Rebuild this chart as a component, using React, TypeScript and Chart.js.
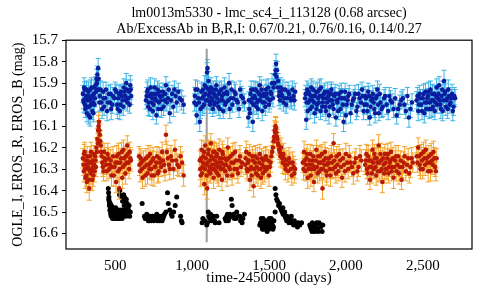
import React, { useEffect, useRef } from "react";
import { Chart, registerables } from "chart.js";

Chart.register(...registerables);

const titleLines = [
  "lm0013m5330 - lmc_sc4_i_113128 (0.68 arcsec)",
  "Ab/ExcessAb in B,R,I: 0.67/0.21, 0.76/0.16, 0.14/0.27",
];
const xTitle = "time-2450000 (days)";
const yTitle = "OGLE_I, EROS_R, EROS_B (mag)";
const xTicks = [500, 1000, 1500, 2000, 2500];
const yTicks = [15.7, 15.8, 15.9, 16.0, 16.1, 16.2, 16.3, 16.4, 16.5, 16.6];
const markerDay = 1095;
const markerMags = [15.74, 16.64];

// [day, mag, error]
const erosB: [number, number, number][] = [
  [290, 15.95, 0.04], [296, 15.99, 0.045], [301, 15.93, 0.035], [306, 16.02, 0.04], [311, 15.96, 0.05],
  [316, 16.04, 0.04], [320, 15.98, 0.035], [326, 15.94, 0.045], [331, 16.01, 0.04], [336, 16.06, 0.04],
  [341, 15.97, 0.035], [346, 15.92, 0.045], [351, 16.03, 0.04], [356, 15.99, 0.05], [361, 15.95, 0.04],
  [366, 16.0, 0.035], [372, 15.91, 0.04], [378, 15.88, 0.045], [384, 15.86, 0.04], [389, 15.83, 0.045],
  [394, 15.93, 0.04], [400, 15.96, 0.035], [410, 15.99, 0.04], [421, 15.94, 0.045], [428, 16.01, 0.04],
  [436, 15.97, 0.035], [447, 16.03, 0.045], [458, 15.95, 0.04], [466, 15.99, 0.04], [474, 16.02, 0.05],
  [485, 15.96, 0.04], [500, 15.93, 0.035], [512, 16.0, 0.045], [520, 15.97, 0.04], [530, 16.03, 0.04],
  [538, 15.94, 0.035], [548, 15.98, 0.045], [556, 15.92, 0.04], [565, 15.96, 0.04], [572, 15.9, 0.045],
  [580, 15.99, 0.04], [590, 15.94, 0.035], [598, 15.91, 0.045], [604, 15.96, 0.04],
  [293, 15.98, 0.04], [298, 15.92, 0.045], [303, 16.0, 0.04], [308, 15.97, 0.035], [313, 15.93, 0.04],
  [318, 16.01, 0.045], [323, 15.96, 0.04], [328, 16.05, 0.04], [333, 15.98, 0.035], [338, 15.93, 0.045],
  [343, 16.0, 0.04], [348, 15.96, 0.04], [353, 15.99, 0.045], [358, 16.04, 0.04], [363, 15.92, 0.035],
  [368, 15.97, 0.04], [375, 15.94, 0.045], [381, 15.9, 0.04], [386, 15.93, 0.04], [392, 15.88, 0.045],
  [397, 15.99, 0.04], [405, 15.93, 0.04], [415, 16.02, 0.045], [425, 15.97, 0.04], [440, 15.93, 0.035],
  [452, 15.99, 0.04], [470, 15.95, 0.045], [480, 16.0, 0.04], [495, 15.97, 0.04], [506, 15.94, 0.035],
  [516, 16.02, 0.045], [525, 15.95, 0.04], [534, 16.0, 0.04], [543, 15.96, 0.045], [552, 16.01, 0.04],
  [560, 15.94, 0.035], [568, 15.98, 0.04], [576, 15.93, 0.045], [585, 15.97, 0.04], [594, 16.0, 0.04],
  [601, 15.93, 0.045],
  [700, 15.98, 0.04], [708, 15.94, 0.045], [715, 16.01, 0.04], [722, 15.96, 0.035], [730, 15.92, 0.045],
  [738, 15.99, 0.04], [745, 16.03, 0.04], [752, 15.95, 0.035], [760, 15.97, 0.045], [768, 16.05, 0.04],
  [775, 15.93, 0.04], [783, 15.99, 0.035], [790, 15.96, 0.045], [800, 16.02, 0.04], [810, 15.94, 0.04],
  [820, 15.98, 0.045], [830, 15.91, 0.04], [842, 15.97, 0.035], [855, 16.04, 0.045], [870, 15.95, 0.04],
  [885, 15.93, 0.04], [900, 15.99, 0.045], [920, 15.97, 0.04], [945, 16.0, 0.04],
  [704, 15.96, 0.04], [712, 15.93, 0.045], [719, 15.99, 0.04], [726, 16.02, 0.035], [734, 15.95, 0.04],
  [741, 15.97, 0.045], [749, 16.0, 0.04], [756, 15.92, 0.04], [764, 15.98, 0.045], [772, 15.95, 0.04],
  [780, 16.02, 0.035], [787, 15.94, 0.04], [795, 15.98, 0.045], [805, 15.96, 0.04], [815, 16.01, 0.04],
  [825, 15.95, 0.045], [836, 15.99, 0.04], [848, 15.93, 0.035], [862, 15.98, 0.04], [878, 16.01, 0.045],
  [893, 15.96, 0.04], [910, 15.94, 0.04], [932, 15.98, 0.045],
  [1015, 15.99, 0.04], [1022, 15.93, 0.045], [1030, 16.05, 0.04], [1040, 15.97, 0.035], [1050, 16.08, 0.045],
  [1060, 15.94, 0.04], [1068, 16.01, 0.04], [1075, 15.96, 0.035], [1082, 15.91, 0.045], [1090, 15.98, 0.04],
  [1097, 15.85, 0.045], [1100, 15.83, 0.04], [1105, 15.93, 0.04], [1110, 15.96, 0.035], [1116, 16.0, 0.04],
  [1122, 15.92, 0.045], [1128, 15.97, 0.04], [1135, 16.02, 0.035], [1142, 15.95, 0.04], [1148, 15.99, 0.045],
  [1155, 15.93, 0.04], [1162, 15.97, 0.035], [1170, 16.01, 0.04], [1178, 15.94, 0.045], [1186, 15.98, 0.04],
  [1194, 15.96, 0.04], [1202, 16.03, 0.035], [1210, 15.92, 0.045], [1220, 15.99, 0.04], [1230, 15.95, 0.04],
  [1240, 15.9, 0.045], [1250, 15.97, 0.04], [1262, 16.0, 0.035], [1275, 15.94, 0.045], [1290, 15.98, 0.04],
  [1305, 16.02, 0.04], [1320, 15.96, 0.045], [1340, 15.99, 0.04],
  [1018, 15.96, 0.04], [1026, 16.0, 0.045], [1035, 15.93, 0.04], [1045, 15.99, 0.04], [1055, 16.02, 0.045],
  [1064, 15.97, 0.04], [1071, 15.93, 0.035], [1078, 16.0, 0.04], [1086, 15.95, 0.045], [1093, 15.92, 0.04],
  [1102, 15.98, 0.04], [1107, 15.89, 0.045], [1113, 15.95, 0.04], [1119, 15.99, 0.035], [1125, 15.94, 0.04],
  [1131, 15.98, 0.045], [1138, 15.93, 0.04], [1145, 16.0, 0.04], [1151, 15.96, 0.045], [1158, 15.91, 0.04],
  [1165, 15.99, 0.035], [1173, 15.95, 0.04], [1181, 16.02, 0.045], [1190, 15.93, 0.04], [1198, 15.98, 0.04],
  [1206, 15.95, 0.045], [1215, 16.0, 0.04], [1225, 15.94, 0.035], [1235, 15.98, 0.04], [1245, 16.02, 0.045],
  [1256, 15.93, 0.04], [1268, 15.97, 0.04], [1282, 15.95, 0.045], [1297, 15.99, 0.04], [1312, 15.93, 0.04],
  [1330, 15.97, 0.045],
  [1365, 16.06, 0.045], [1372, 16.02, 0.04], [1380, 15.95, 0.035], [1388, 15.99, 0.04], [1395, 16.08, 0.045],
  [1402, 15.93, 0.04], [1410, 15.97, 0.04], [1418, 16.01, 0.035], [1425, 15.94, 0.045], [1432, 15.98, 0.04],
  [1440, 15.91, 0.04], [1448, 15.96, 0.035], [1456, 16.03, 0.045], [1464, 15.95, 0.04], [1472, 15.99, 0.04],
  [1480, 15.93, 0.045], [1490, 15.97, 0.04], [1500, 16.0, 0.035], [1510, 15.94, 0.04], [1520, 15.9, 0.045],
  [1530, 15.92, 0.04], [1540, 15.86, 0.04], [1546, 15.81, 0.045], [1552, 15.84, 0.04], [1560, 15.89, 0.035],
  [1568, 15.94, 0.04], [1576, 15.92, 0.045], [1585, 15.96, 0.04], [1595, 15.99, 0.04], [1605, 15.93, 0.035],
  [1618, 15.97, 0.045], [1630, 15.95, 0.04], [1645, 15.98, 0.04], [1660, 15.96, 0.045], [1670, 15.94, 0.04],
  [1369, 15.98, 0.04], [1376, 16.04, 0.045], [1384, 15.93, 0.04], [1392, 15.97, 0.04], [1399, 16.0, 0.045],
  [1406, 15.96, 0.04], [1414, 15.93, 0.035], [1421, 15.99, 0.04], [1429, 16.02, 0.045], [1436, 15.95, 0.04],
  [1444, 15.98, 0.04], [1452, 15.93, 0.045], [1460, 15.99, 0.04], [1468, 15.96, 0.035], [1476, 16.01, 0.04],
  [1485, 15.95, 0.045], [1495, 15.92, 0.04], [1505, 15.98, 0.04], [1515, 15.95, 0.045], [1525, 15.97, 0.04],
  [1535, 15.9, 0.04], [1543, 15.84, 0.045], [1549, 15.87, 0.04], [1556, 15.92, 0.04], [1564, 15.96, 0.045],
  [1572, 15.98, 0.04], [1580, 15.95, 0.04], [1590, 15.93, 0.045], [1600, 15.97, 0.04], [1612, 16.0, 0.04],
  [1624, 15.94, 0.045], [1638, 15.97, 0.04], [1652, 15.93, 0.04], [1665, 15.98, 0.045],
  [1735, 15.97, 0.04], [1742, 16.07, 0.045], [1748, 15.93, 0.04], [1755, 15.99, 0.035], [1762, 15.95, 0.04],
  [1768, 16.02, 0.045], [1775, 15.92, 0.04], [1782, 15.98, 0.04], [1790, 15.96, 0.035], [1797, 16.04, 0.045],
  [1805, 15.94, 0.04], [1812, 16.0, 0.04], [1820, 15.97, 0.035], [1828, 15.93, 0.045], [1835, 16.03, 0.04],
  [1842, 15.96, 0.04], [1850, 15.99, 0.045], [1858, 15.95, 0.04], [1866, 16.01, 0.035], [1874, 15.97, 0.04],
  [1882, 15.94, 0.045], [1890, 16.05, 0.04], [1898, 15.98, 0.04], [1906, 15.93, 0.035], [1915, 16.0, 0.045],
  [1925, 15.96, 0.04], [1935, 16.06, 0.04], [1945, 15.99, 0.045], [1955, 15.95, 0.04], [1965, 16.02, 0.035],
  [1975, 15.97, 0.04], [1985, 16.08, 0.045], [1995, 15.94, 0.04], [2005, 16.0, 0.04], [2015, 15.96, 0.035],
  [2030, 16.04, 0.045], [2045, 15.98, 0.04], [2060, 15.95, 0.04], [2075, 16.01, 0.045], [2090, 15.97, 0.04],
  [2105, 15.93, 0.035], [2115, 16.03, 0.04], [2125, 15.96, 0.045], [2135, 16.0, 0.04], [2145, 15.94, 0.04],
  [2155, 16.06, 0.035], [2165, 15.98, 0.045], [2175, 15.95, 0.04], [2185, 16.02, 0.04], [2195, 15.97, 0.045],
  [2205, 15.93, 0.04], [2215, 16.04, 0.035], [2225, 15.99, 0.04], [2240, 16.01, 0.045], [2255, 15.96, 0.04],
  [2275, 16.03, 0.04], [2290, 15.98, 0.045], [2310, 16.02, 0.04], [2330, 16.05, 0.04], [2350, 16.0, 0.045],
  [2370, 15.97, 0.04], [2390, 16.03, 0.035], [2410, 16.06, 0.045], [2430, 15.99, 0.04],
  [1738, 15.95, 0.04], [1745, 15.99, 0.045], [1752, 16.03, 0.04], [1758, 15.94, 0.04], [1765, 15.98, 0.045],
  [1772, 15.96, 0.04], [1779, 16.01, 0.035], [1786, 15.93, 0.04], [1794, 15.99, 0.045], [1801, 15.96, 0.04],
  [1809, 16.02, 0.04], [1816, 15.94, 0.045], [1824, 15.99, 0.04], [1831, 15.96, 0.035], [1838, 15.92, 0.04],
  [1846, 16.01, 0.045], [1854, 15.97, 0.04], [1862, 15.94, 0.04], [1870, 16.03, 0.045], [1878, 15.99, 0.04],
  [1886, 15.96, 0.035], [1894, 16.01, 0.04], [1902, 15.95, 0.045], [1910, 15.98, 0.04], [1920, 16.02, 0.04],
  [1930, 15.95, 0.045], [1940, 15.98, 0.04], [1950, 16.03, 0.04], [1960, 15.97, 0.045], [1970, 15.94, 0.04],
  [1980, 16.0, 0.04], [1990, 15.97, 0.045], [2000, 16.05, 0.04], [2010, 15.98, 0.035], [2022, 15.95, 0.04],
  [2038, 16.0, 0.045], [2052, 15.97, 0.04], [2068, 16.03, 0.04], [2082, 15.95, 0.045], [2098, 15.99, 0.04],
  [2110, 15.96, 0.04], [2120, 16.0, 0.045], [2130, 15.97, 0.04], [2140, 16.03, 0.04], [2150, 15.96, 0.045],
  [2160, 16.01, 0.04], [2170, 15.97, 0.035], [2180, 15.99, 0.04], [2190, 16.04, 0.045], [2200, 15.96, 0.04],
  [2210, 16.0, 0.04], [2220, 15.95, 0.045], [2232, 16.02, 0.04], [2248, 15.97, 0.04], [2265, 16.0, 0.045],
  [2282, 15.96, 0.04], [2300, 15.99, 0.04], [2320, 15.97, 0.045], [2340, 16.02, 0.04], [2360, 15.98, 0.04],
  [2380, 16.0, 0.045], [2400, 15.96, 0.04], [2420, 16.02, 0.04],
  [2460, 15.98, 0.04], [2470, 16.03, 0.045], [2480, 15.95, 0.04], [2490, 16.0, 0.035], [2500, 15.97, 0.04],
  [2510, 16.04, 0.045], [2518, 15.94, 0.04], [2526, 15.99, 0.04], [2534, 15.96, 0.035], [2542, 16.02, 0.045],
  [2550, 15.93, 0.04], [2558, 15.98, 0.04], [2566, 16.01, 0.045], [2574, 15.95, 0.04], [2582, 15.99, 0.035],
  [2590, 15.92, 0.04], [2598, 15.97, 0.045], [2606, 15.91, 0.04], [2614, 16.0, 0.04], [2622, 15.96, 0.035],
  [2630, 16.03, 0.045], [2638, 15.89, 0.05], [2646, 15.94, 0.04], [2654, 15.98, 0.04], [2662, 16.02, 0.045],
  [2670, 15.96, 0.04], [2680, 15.99, 0.035], [2690, 15.95, 0.045], [2700, 16.01, 0.04], [2710, 15.97, 0.04],
  [2465, 15.96, 0.04], [2475, 16.0, 0.045], [2485, 15.97, 0.04], [2495, 16.03, 0.04], [2505, 15.95, 0.045],
  [2514, 15.99, 0.04], [2522, 16.02, 0.035], [2530, 15.97, 0.04], [2538, 15.94, 0.045], [2546, 15.99, 0.04],
  [2554, 16.02, 0.04], [2562, 15.95, 0.045], [2570, 15.98, 0.04], [2578, 16.03, 0.04], [2586, 15.96, 0.045],
  [2594, 16.0, 0.04], [2602, 15.95, 0.035], [2610, 15.98, 0.04], [2618, 16.02, 0.045], [2626, 15.93, 0.04],
  [2634, 15.98, 0.04], [2642, 15.95, 0.045], [2650, 16.01, 0.04], [2658, 15.97, 0.04], [2666, 15.93, 0.045],
  [2675, 16.0, 0.04], [2685, 15.97, 0.04], [2695, 16.03, 0.045], [2705, 15.96, 0.04],
];

const erosR: [number, number, number][] = [
  [290, 16.25, 0.045], [296, 16.31, 0.05], [301, 16.22, 0.045], [306, 16.34, 0.05], [311, 16.28, 0.045],
  [316, 16.36, 0.05], [320, 16.26, 0.04], [326, 16.3, 0.05], [331, 16.39, 0.055], [336, 16.24, 0.045],
  [341, 16.32, 0.05], [346, 16.27, 0.045], [351, 16.35, 0.05], [356, 16.29, 0.045], [361, 16.23, 0.04],
  [366, 16.31, 0.05], [372, 16.26, 0.045], [378, 16.2, 0.045], [384, 16.16, 0.05], [389, 16.12, 0.045],
  [394, 16.08, 0.045], [400, 16.14, 0.05], [406, 16.19, 0.045], [412, 16.24, 0.05], [420, 16.29, 0.045],
  [428, 16.22, 0.04], [436, 16.26, 0.05], [446, 16.31, 0.045], [456, 16.25, 0.05], [466, 16.28, 0.045],
  [476, 16.33, 0.05], [486, 16.24, 0.045], [496, 16.29, 0.04], [506, 16.36, 0.05], [514, 16.27, 0.045],
  [522, 16.23, 0.05], [526, 16.39, 0.05], [530, 16.3, 0.045], [538, 16.25, 0.045], [546, 16.34, 0.05],
  [554, 16.21, 0.045], [562, 16.28, 0.05], [570, 16.24, 0.045], [578, 16.19, 0.045], [586, 16.27, 0.05],
  [594, 16.22, 0.045], [602, 16.26, 0.05],
  [293, 16.28, 0.05], [298, 16.23, 0.045], [303, 16.3, 0.05], [308, 16.26, 0.045], [313, 16.33, 0.05],
  [318, 16.24, 0.045], [323, 16.29, 0.05], [328, 16.35, 0.05], [333, 16.27, 0.045], [338, 16.31, 0.05],
  [343, 16.22, 0.045], [348, 16.3, 0.05], [353, 16.26, 0.045], [358, 16.33, 0.05], [363, 16.28, 0.045],
  [369, 16.24, 0.05], [375, 16.29, 0.045], [381, 16.22, 0.05], [387, 16.18, 0.045], [392, 16.1, 0.05],
  [397, 16.12, 0.045], [403, 16.17, 0.05], [409, 16.22, 0.045], [416, 16.27, 0.05], [424, 16.31, 0.045],
  [432, 16.25, 0.05], [441, 16.28, 0.045], [451, 16.23, 0.05], [461, 16.3, 0.045], [471, 16.26, 0.05],
  [481, 16.29, 0.045], [491, 16.33, 0.05], [501, 16.27, 0.045], [510, 16.24, 0.05], [518, 16.31, 0.045],
  [534, 16.27, 0.05], [542, 16.22, 0.045], [550, 16.29, 0.05], [558, 16.25, 0.045], [566, 16.32, 0.05],
  [574, 16.27, 0.045], [582, 16.23, 0.05], [590, 16.3, 0.045], [598, 16.25, 0.05],
  [655, 16.24, 0.045], [662, 16.31, 0.05], [670, 16.27, 0.045], [678, 16.34, 0.05], [690, 16.29, 0.045],
  [700, 16.25, 0.045], [710, 16.32, 0.05], [718, 16.28, 0.045], [726, 16.23, 0.04], [734, 16.3, 0.05],
  [742, 16.26, 0.045], [752, 16.33, 0.05], [762, 16.29, 0.045], [772, 16.24, 0.045], [782, 16.31, 0.05],
  [792, 16.27, 0.045], [805, 16.22, 0.045], [818, 16.28, 0.05], [830, 16.14, 0.045], [842, 16.25, 0.045],
  [855, 16.3, 0.05], [870, 16.26, 0.045], [888, 16.21, 0.045], [905, 16.28, 0.05], [925, 16.24, 0.045],
  [945, 16.33, 0.05],
  [658, 16.28, 0.05], [666, 16.25, 0.045], [674, 16.3, 0.05], [684, 16.26, 0.045], [695, 16.33, 0.05],
  [705, 16.28, 0.045], [714, 16.24, 0.05], [722, 16.3, 0.045], [730, 16.27, 0.05], [738, 16.33, 0.045],
  [747, 16.25, 0.05], [757, 16.29, 0.045], [767, 16.27, 0.05], [777, 16.32, 0.045], [787, 16.25, 0.05],
  [798, 16.29, 0.045], [811, 16.26, 0.05], [824, 16.31, 0.045], [836, 16.22, 0.05], [849, 16.28, 0.045],
  [862, 16.24, 0.05], [879, 16.3, 0.045], [896, 16.26, 0.05], [915, 16.29, 0.045], [935, 16.27, 0.05],
  [1050, 16.26, 0.045], [1056, 16.33, 0.05], [1062, 16.21, 0.045], [1068, 16.29, 0.045], [1074, 16.24, 0.05],
  [1080, 16.37, 0.05], [1086, 16.19, 0.045], [1092, 16.28, 0.045], [1098, 16.39, 0.05], [1104, 16.23, 0.045],
  [1110, 16.31, 0.05], [1116, 16.26, 0.045], [1122, 16.18, 0.045], [1128, 16.3, 0.05], [1134, 16.25, 0.045],
  [1140, 16.34, 0.05], [1146, 16.22, 0.045], [1152, 16.28, 0.045], [1158, 16.24, 0.05], [1164, 16.32, 0.045],
  [1170, 16.27, 0.045], [1176, 16.21, 0.05], [1182, 16.29, 0.045], [1188, 16.25, 0.045], [1194, 16.35, 0.05],
  [1200, 16.23, 0.045], [1208, 16.28, 0.045], [1216, 16.31, 0.05], [1224, 16.26, 0.045], [1232, 16.2, 0.045],
  [1240, 16.29, 0.05], [1250, 16.24, 0.045], [1260, 16.33, 0.045], [1270, 16.27, 0.05], [1280, 16.22, 0.045],
  [1292, 16.3, 0.045], [1305, 16.26, 0.05], [1318, 16.29, 0.045],
  [1053, 16.3, 0.05], [1059, 16.25, 0.045], [1065, 16.32, 0.05], [1071, 16.27, 0.045], [1077, 16.22, 0.05],
  [1083, 16.3, 0.045], [1089, 16.25, 0.05], [1095, 16.33, 0.045], [1101, 16.27, 0.05], [1107, 16.21, 0.045],
  [1113, 16.29, 0.05], [1119, 16.32, 0.045], [1125, 16.24, 0.05], [1131, 16.28, 0.045], [1137, 16.22, 0.05],
  [1143, 16.3, 0.045], [1149, 16.26, 0.05], [1155, 16.31, 0.045], [1161, 16.23, 0.05], [1167, 16.29, 0.045],
  [1173, 16.33, 0.05], [1179, 16.25, 0.045], [1185, 16.3, 0.05], [1191, 16.27, 0.045], [1197, 16.22, 0.05],
  [1204, 16.3, 0.045], [1212, 16.25, 0.05], [1220, 16.28, 0.045], [1228, 16.33, 0.05], [1236, 16.25, 0.045],
  [1245, 16.3, 0.05], [1255, 16.27, 0.045], [1265, 16.23, 0.05], [1275, 16.3, 0.045], [1286, 16.26, 0.05],
  [1298, 16.32, 0.045], [1311, 16.24, 0.05], [1324, 16.27, 0.045],
  [1345, 16.28, 0.045], [1352, 16.22, 0.05], [1360, 16.31, 0.045], [1368, 16.26, 0.045], [1376, 16.35, 0.05],
  [1384, 16.29, 0.045], [1392, 16.24, 0.045], [1400, 16.38, 0.05], [1408, 16.27, 0.045], [1416, 16.32, 0.045],
  [1424, 16.25, 0.05], [1432, 16.3, 0.045], [1440, 16.23, 0.045], [1448, 16.34, 0.05], [1456, 16.28, 0.045],
  [1464, 16.26, 0.045], [1472, 16.31, 0.05], [1480, 16.24, 0.045], [1490, 16.29, 0.045], [1500, 16.33, 0.05],
  [1510, 16.27, 0.045], [1520, 16.22, 0.045], [1530, 16.17, 0.05], [1537, 16.12, 0.045], [1542, 16.1, 0.045],
  [1548, 16.13, 0.05], [1555, 16.16, 0.045], [1562, 16.19, 0.045], [1570, 16.22, 0.05], [1578, 16.2, 0.045],
  [1586, 16.25, 0.045], [1594, 16.23, 0.05], [1602, 16.28, 0.045], [1612, 16.26, 0.045], [1624, 16.31, 0.05],
  [1636, 16.27, 0.045], [1648, 16.33, 0.045], [1660, 16.29, 0.05], [1670, 16.3, 0.045],
  [1348, 16.25, 0.05], [1356, 16.3, 0.045], [1364, 16.27, 0.05], [1372, 16.23, 0.045], [1380, 16.3, 0.05],
  [1388, 16.33, 0.045], [1396, 16.26, 0.05], [1404, 16.3, 0.045], [1412, 16.24, 0.05], [1420, 16.29, 0.045],
  [1428, 16.33, 0.05], [1436, 16.27, 0.045], [1444, 16.3, 0.05], [1452, 16.25, 0.045], [1460, 16.32, 0.05],
  [1468, 16.29, 0.045], [1476, 16.25, 0.05], [1485, 16.3, 0.045], [1495, 16.26, 0.05], [1505, 16.29, 0.045],
  [1515, 16.24, 0.05], [1525, 16.2, 0.045], [1533, 16.15, 0.05], [1540, 16.13, 0.045], [1545, 16.11, 0.05],
  [1551, 16.15, 0.045], [1558, 16.18, 0.05], [1566, 16.21, 0.045], [1574, 16.24, 0.05], [1582, 16.23, 0.045],
  [1590, 16.27, 0.05], [1598, 16.25, 0.045], [1607, 16.3, 0.05], [1618, 16.28, 0.045], [1630, 16.25, 0.05],
  [1642, 16.3, 0.045], [1654, 16.27, 0.05], [1665, 16.32, 0.045],
  [1720, 16.27, 0.045], [1728, 16.22, 0.05], [1736, 16.31, 0.045], [1744, 16.25, 0.045], [1752, 16.34, 0.05],
  [1760, 16.28, 0.045], [1768, 16.23, 0.045], [1776, 16.3, 0.05], [1784, 16.26, 0.045], [1792, 16.36, 0.045],
  [1800, 16.29, 0.05], [1808, 16.21, 0.045], [1816, 16.32, 0.045], [1824, 16.27, 0.05], [1832, 16.24, 0.045],
  [1840, 16.3, 0.045], [1848, 16.39, 0.05], [1856, 16.26, 0.045], [1864, 16.22, 0.045], [1872, 16.31, 0.05],
  [1880, 16.28, 0.045], [1890, 16.25, 0.045], [1900, 16.33, 0.05], [1910, 16.27, 0.045], [1920, 16.18, 0.045],
  [1930, 16.29, 0.05], [1940, 16.24, 0.045], [1950, 16.31, 0.045], [1962, 16.26, 0.05], [1975, 16.34, 0.045],
  [1988, 16.28, 0.045], [2000, 16.23, 0.05], [2015, 16.3, 0.045], [2030, 16.27, 0.045], [2048, 16.32, 0.05],
  [2065, 16.25, 0.045], [2082, 16.29, 0.045], [2100, 16.26, 0.05],
  [1724, 16.3, 0.05], [1732, 16.26, 0.045], [1740, 16.28, 0.05], [1748, 16.23, 0.045], [1756, 16.3, 0.05],
  [1764, 16.26, 0.045], [1772, 16.33, 0.05], [1780, 16.28, 0.045], [1788, 16.24, 0.05], [1796, 16.3, 0.045],
  [1804, 16.26, 0.05], [1812, 16.29, 0.045], [1820, 16.24, 0.05], [1828, 16.31, 0.045], [1836, 16.27, 0.05],
  [1844, 16.23, 0.045], [1852, 16.3, 0.05], [1860, 16.28, 0.045], [1868, 16.25, 0.05], [1876, 16.33, 0.045],
  [1885, 16.27, 0.05], [1895, 16.3, 0.045], [1905, 16.24, 0.05], [1915, 16.3, 0.045], [1925, 16.26, 0.05],
  [1935, 16.32, 0.045], [1945, 16.28, 0.05], [1956, 16.23, 0.045], [1968, 16.29, 0.05], [1981, 16.25, 0.045],
  [1994, 16.31, 0.05], [2008, 16.27, 0.045], [2022, 16.24, 0.05], [2039, 16.29, 0.045], [2056, 16.27, 0.05],
  [2074, 16.31, 0.045], [2091, 16.24, 0.05],
  [2125, 16.28, 0.045], [2133, 16.23, 0.045], [2141, 16.32, 0.05], [2149, 16.26, 0.045], [2157, 16.35, 0.045],
  [2165, 16.29, 0.05], [2173, 16.21, 0.045], [2181, 16.3, 0.045], [2189, 16.25, 0.05], [2197, 16.33, 0.045],
  [2205, 16.27, 0.045], [2213, 16.19, 0.05], [2221, 16.31, 0.045], [2229, 16.26, 0.045], [2237, 16.36, 0.05],
  [2245, 16.28, 0.045], [2253, 16.23, 0.045], [2261, 16.3, 0.05], [2269, 16.25, 0.045], [2277, 16.32, 0.045],
  [2285, 16.27, 0.05], [2293, 16.22, 0.045], [2301, 16.29, 0.045], [2310, 16.34, 0.05], [2320, 16.26, 0.045],
  [2330, 16.31, 0.045], [2340, 16.24, 0.05], [2350, 16.29, 0.045], [2362, 16.35, 0.045], [2375, 16.27, 0.05],
  [2390, 16.31, 0.045], [2405, 16.25, 0.045], [2420, 16.29, 0.05], [2435, 16.27, 0.045],
  [2129, 16.26, 0.05], [2137, 16.3, 0.045], [2145, 16.24, 0.05], [2153, 16.29, 0.045], [2161, 16.26, 0.05],
  [2169, 16.32, 0.045], [2177, 16.27, 0.05], [2185, 16.23, 0.045], [2193, 16.29, 0.05], [2201, 16.25, 0.045],
  [2209, 16.31, 0.05], [2217, 16.27, 0.045], [2225, 16.23, 0.05], [2233, 16.3, 0.045], [2241, 16.25, 0.05],
  [2249, 16.32, 0.045], [2257, 16.27, 0.05], [2265, 16.3, 0.045], [2273, 16.23, 0.05], [2281, 16.29, 0.045],
  [2289, 16.26, 0.05], [2297, 16.31, 0.045], [2305, 16.25, 0.05], [2315, 16.29, 0.045], [2325, 16.24, 0.05],
  [2335, 16.28, 0.045], [2345, 16.32, 0.05], [2356, 16.26, 0.045], [2368, 16.29, 0.05], [2382, 16.24, 0.045],
  [2397, 16.28, 0.05], [2412, 16.32, 0.045], [2428, 16.25, 0.05],
  [2460, 16.24, 0.045], [2470, 16.2, 0.045], [2480, 16.28, 0.05], [2490, 16.23, 0.045], [2500, 16.3, 0.045],
  [2510, 16.25, 0.05], [2520, 16.21, 0.045], [2530, 16.27, 0.045], [2540, 16.24, 0.05], [2550, 16.31, 0.045],
  [2560, 16.26, 0.045], [2570, 16.22, 0.05], [2580, 16.29, 0.045], [2590, 16.25, 0.045],
  [2465, 16.27, 0.045], [2475, 16.24, 0.05], [2485, 16.3, 0.045], [2495, 16.26, 0.05], [2505, 16.22, 0.045],
  [2515, 16.28, 0.05], [2525, 16.25, 0.045], [2535, 16.31, 0.05], [2545, 16.27, 0.045], [2555, 16.23, 0.05],
  [2565, 16.28, 0.045], [2575, 16.25, 0.05], [2585, 16.31, 0.045],
];

// [day, mag]
const ogleI: [number, number][] = [
  [455, 16.39], [457, 16.41], [459, 16.43], [461, 16.45], [463, 16.46], [466, 16.47], [469, 16.48], [472, 16.49],
  [475, 16.47], [478, 16.5], [482, 16.49], [486, 16.51], [490, 16.5], [494, 16.51], [498, 16.52], [502, 16.5],
  [506, 16.52], [510, 16.53], [515, 16.51], [520, 16.53], [525, 16.52], [530, 16.53], [535, 16.51], [540, 16.52],
  [545, 16.53], [550, 16.52], [556, 16.5], [562, 16.51], [568, 16.49], [575, 16.5], [582, 16.48], [590, 16.47],
  [598, 16.5], [530, 16.4], [540, 16.43], [555, 16.42], [565, 16.45], [470, 16.5], [485, 16.48], [500, 16.49],
  [458, 16.44], [462, 16.47], [465, 16.49], [468, 16.46], [471, 16.51], [474, 16.52], [477, 16.48], [480, 16.51],
  [483, 16.53], [487, 16.48], [491, 16.52], [495, 16.49], [499, 16.53], [503, 16.48], [507, 16.5], [511, 16.51],
  [516, 16.49], [521, 16.5], [526, 16.51], [531, 16.49], [536, 16.52], [541, 16.5], [546, 16.49], [551, 16.51],
  [558, 16.47], [563, 16.49], [570, 16.52], [578, 16.46], [586, 16.49], [594, 16.52], [528, 16.42], [548, 16.45],
  [560, 16.43], [572, 16.44],
  [675, 16.46], [690, 16.52], [700, 16.53], [710, 16.52], [720, 16.54], [730, 16.53], [740, 16.52], [750, 16.54],
  [760, 16.53], [770, 16.51], [780, 16.53], [790, 16.54], [800, 16.52], [810, 16.53], [820, 16.51], [830, 16.5],
  [840, 16.41], [845, 16.46], [855, 16.49], [865, 16.51], [880, 16.5], [900, 16.43], [925, 16.52], [935, 16.55],
  [695, 16.53], [705, 16.51], [715, 16.54], [725, 16.52], [735, 16.54], [745, 16.52], [755, 16.53], [765, 16.52],
  [775, 16.54], [785, 16.52], [795, 16.53], [805, 16.54], [815, 16.52], [870, 16.52], [890, 16.47], [930, 16.54],
  [1065, 16.55], [1080, 16.54], [1095, 16.56], [1105, 16.5], [1110, 16.52], [1120, 16.51], [1130, 16.53],
  [1145, 16.54], [1160, 16.52], [1175, 16.55], [1215, 16.53], [1225, 16.52], [1235, 16.54], [1245, 16.51],
  [1255, 16.44], [1260, 16.47], [1265, 16.52], [1275, 16.53], [1290, 16.5], [1300, 16.52], [1315, 16.54],
  [1330, 16.53], [1340, 16.51],
  [1070, 16.53], [1100, 16.55], [1115, 16.53], [1125, 16.54], [1140, 16.52], [1150, 16.55], [1220, 16.54],
  [1230, 16.51], [1240, 16.53], [1250, 16.52], [1270, 16.51], [1285, 16.53], [1310, 16.52], [1325, 16.55],
  [1440, 16.56], [1450, 16.53], [1458, 16.58], [1465, 16.55], [1472, 16.57], [1480, 16.54], [1488, 16.59],
  [1495, 16.56], [1502, 16.53], [1510, 16.57], [1518, 16.55], [1525, 16.58], [1532, 16.54], [1540, 16.39],
  [1540, 16.5], [1545, 16.42], [1550, 16.44], [1556, 16.45], [1562, 16.47], [1568, 16.46], [1574, 16.48],
  [1580, 16.49], [1586, 16.5], [1592, 16.51], [1598, 16.5], [1604, 16.52], [1610, 16.53], [1618, 16.52],
  [1626, 16.54], [1634, 16.53], [1642, 16.55], [1650, 16.54], [1660, 16.56], [1672, 16.55], [1685, 16.57],
  [1700, 16.56], [1712, 16.55],
  [1445, 16.55], [1455, 16.57], [1462, 16.53], [1468, 16.58], [1476, 16.55], [1484, 16.57], [1492, 16.54],
  [1498, 16.58], [1506, 16.55], [1514, 16.53], [1522, 16.56], [1529, 16.57], [1590, 16.48], [1602, 16.5],
  [1615, 16.54], [1630, 16.55], [1645, 16.52], [1665, 16.54], [1690, 16.55],
  [1765, 16.56], [1775, 16.58], [1782, 16.55], [1790, 16.57], [1798, 16.59], [1806, 16.56], [1815, 16.58],
  [1825, 16.55], [1835, 16.57], [1845, 16.59], [1850, 16.56],
  [1770, 16.57], [1780, 16.59], [1795, 16.56], [1810, 16.55], [1820, 16.59], [1840, 16.56],
];

const FONT = "'Liberation Serif', 'Times New Roman', serif";

const errorBarsPlugin = {
  id: "errorBars",
  beforeDatasetDraw(chart: any, args: any) {
    const ds = chart.data.datasets[args.index];
    if (!ds.errors) return;
    const xs = chart.scales.x;
    const ys = chart.scales.y;
    const ctx = chart.ctx;
    const a = chart.chartArea;
    ctx.save();
    ctx.beginPath();
    ctx.rect(a.left, a.top, a.right - a.left, a.bottom - a.top);
    ctx.clip();
    ctx.strokeStyle = ds.errorColor;
    ctx.lineWidth = 1;
    ctx.beginPath();
    ds.data.forEach((p: any, i: number) => {
      const e = ds.errors[i];
      const px = xs.getPixelForValue(p.x);
      const y1 = ys.getPixelForValue(p.y - e);
      const y2 = ys.getPixelForValue(p.y + e);
      ctx.moveTo(px, y1);
      ctx.lineTo(px, y2);
      ctx.moveTo(px - 2.5, y1);
      ctx.lineTo(px + 2.5, y1);
      ctx.moveTo(px - 2.5, y2);
      ctx.lineTo(px + 2.5, y2);
    });
    ctx.stroke();
    ctx.restore();
  },
};

const framePlugin = {
  id: "frame",
  afterDraw(chart: any) {
    const { left, top, right, bottom } = chart.chartArea;
    const ctx = chart.ctx;
    ctx.save();
    ctx.strokeStyle = "#000";
    ctx.lineWidth = 1.2;
    ctx.strokeRect(left, top, right - left, bottom - top);
    ctx.restore();
  },
};

export default function App() {
  const ref = useRef<HTMLCanvasElement | null>(null);
  useEffect(() => {
    document.body.style.margin = "0";
    const canvas = ref.current;
    if (!canvas) return;
    const chart = new Chart(canvas, {
      type: "scatter",
      data: {
        datasets: [
          {
            label: "EROS_B",
            data: erosB.map((d) => ({ x: d[0], y: d[1] })),
            errors: erosB.map((d) => d[2]),
            errorColor: "#3fb3e6",
            pointRadius: 2.3,
            pointBackgroundColor: "#0a1d9e",
            pointBorderColor: "#0a1d9e",
            pointBorderWidth: 0,
          } as any,
          {
            label: "EROS_R",
            data: erosR.map((d) => ({ x: d[0], y: d[1] })),
            errors: erosR.map((d) => d[2]),
            errorColor: "#f5a42a",
            pointRadius: 2.3,
            pointBackgroundColor: "#b81a06",
            pointBorderColor: "#b81a06",
            pointBorderWidth: 0,
          } as any,
          {
            label: "OGLE_I",
            data: ogleI.map((d) => ({ x: d[0], y: d[1] })),
            pointRadius: 2.5,
            pointBackgroundColor: "#000",
            pointBorderColor: "#000",
            pointBorderWidth: 0,
          },
          {
            label: "marker",
            data: markerMags.map((m) => ({ x: markerDay, y: m })),
            showLine: true,
            borderColor: "#9c9c9c",
            borderWidth: 2,
            pointRadius: 0,
          },
        ],
      },
      options: {
        animation: false,
        responsive: false,
        maintainAspectRatio: false,
        layout: { padding: { left: 0, right: 8, top: 0, bottom: 0 } },
        plugins: {
          legend: { display: false },
          tooltip: { enabled: false },
          title: {
            display: true,
            text: titleLines,
            fullSize: false,
            color: "#000",
            font: { family: FONT, size: 14, weight: "normal", lineHeight: 1.15 },
            padding: { top: 5, bottom: 3 },
          },
        },
        scales: {
          x: {
            type: "linear",
            min: 180,
            max: 2820,
            afterBuildTicks: (s: any) => {
              s.ticks = xTicks.map((v) => ({ value: v }));
            },
            afterFit: (s: any) => {
              s.height = 51;
            },
            ticks: {
              color: "#000",
              font: { family: FONT, size: 15 },
              padding: 8,
              maxRotation: 0,
              callback: (v: any) => Number(v).toLocaleString("en-US"),
            },
            grid: { display: false, drawTicks: false, tickLength: 0 },
            border: { display: false },
            title: {
              display: true,
              text: xTitle,
              color: "#000",
              font: { family: FONT, size: 15 },
              padding: { top: 0, bottom: 13 },
            },
          },
          y: {
            type: "linear",
            reverse: true,
            min: 15.7,
            max: 16.672,
            afterBuildTicks: (s: any) => {
              s.ticks = yTicks.map((v) => ({ value: v }));
            },
            afterFit: (s: any) => {
              s.width = 66;
            },
            ticks: {
              color: "#000",
              font: { family: FONT, size: 15 },
              padding: 4,
              callback: (v: any) => Number(v).toFixed(1),
            },
            grid: { display: true, drawOnChartArea: false, tickLength: 4, color: "#000" },
            border: { display: false },
            title: {
              display: true,
              text: yTitle,
              color: "#000",
              font: { family: FONT, size: 14 },
              padding: { top: 10, bottom: 0 },
            },
          },
        },
      },
      plugins: [errorBarsPlugin, framePlugin],
    } as any);
    return () => chart.destroy();
  }, []);
  return (
    <div style={{ width: 480, height: 300 }}>
      <canvas ref={ref} width={480} height={300} style={{ display: "block" }} />
    </div>
  );
}
